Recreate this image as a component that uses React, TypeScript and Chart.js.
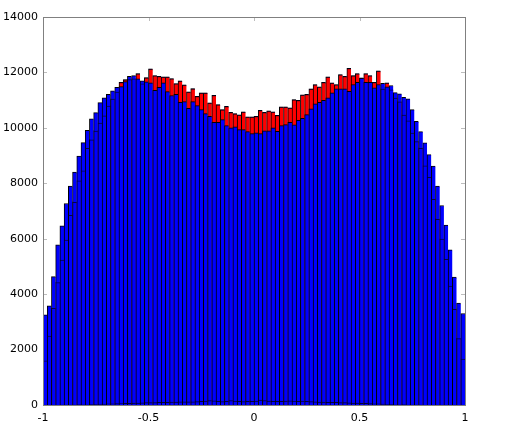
import React, { useEffect, useRef } from "react";
import { Chart, registerables } from "chart.js";

Chart.register(...registerables);

// Histogram bins: 100 bins of width 0.02 from -1 to 1
const BIN_START = -1;
const BIN_WIDTH = 0.02;
const BIN_COUNT = 100;
const binCenters: number[] = Array.from({ length: BIN_COUNT }, (_, i) => +(BIN_START + BIN_WIDTH * (i + 0.5)).toFixed(3));

// Blue histogram (front)
const blueCounts: number[] = [
  3256, 3582, 4631, 5778, 6465, 7272, 7898, 8405, 8980, 9470,
  9915, 10330, 10548, 10908, 11080, 11213, 11335, 11465, 11490, 11671,
  11862, 11885, 11769, 11700, 11660, 11624, 11357, 11465, 11624, 11310,
  11166, 11213, 10924, 10949, 10707, 10949, 10805, 10660, 10516, 10418,
  10202, 10202, 10299, 10083, 10000, 10036, 9938, 9938, 9866, 9794,
  9819, 9794, 9891, 9891, 10000, 9877, 10083, 10119, 10202, 10108,
  10274, 10346, 10480, 10686, 10866, 10924, 10997, 11083, 11263, 11408,
  11408, 11408, 11321, 11563, 11646, 11790, 11646, 11646, 11444, 11563,
  11610, 11480, 11527, 11270, 11230, 11100, 11050, 10660, 10235, 9866,
  9458, 9036, 8625, 7900, 7200, 6490, 5600, 4615, 3682, 3300,
];

// Red histogram (behind blue)
const redCounts: number[] = [
  1610, 2502, 3500, 4426, 5245, 5967, 6859, 7328, 8097, 8458,
  9277, 9577, 9900, 10180, 10444, 10800, 11050, 11300, 11646, 11743,
  11750, 11780, 11960, 11600, 11815, 12130, 11888, 11862, 11840, 11840,
  11780, 11600, 11696, 11552, 11300, 11418, 11140, 11263, 11263, 10902,
  11177, 10841, 10660, 10780, 10563, 10516, 10469, 10577, 10397, 10397,
  10418, 10635, 10563, 10613, 10577, 10455, 10758, 10758, 10722, 11021,
  10997, 11191, 11213, 11408, 11563, 11480, 11646, 11840, 11624, 11563,
  11924, 11862, 12152, 11888, 11960, 11805, 11960, 11888, 11646, 12057,
  11408, 11624, 11383, 11083, 10949, 10469, 10263, 9819, 9516, 9277,
  8639, 8231, 7437, 6715, 6000, 5271, 4307, 3466, 2404, 1672,
];

// Small third histogram near the baseline (outline only)
const smallCounts: number[] = [
  5, 8, 10, 12, 15, 18, 20, 22, 25, 28,
  30, 35, 38, 42, 45, 50, 55, 60, 65, 70,
  75, 80, 85, 90, 95, 100, 100, 105, 110, 110,
  115, 120, 125, 130, 125, 130, 135, 140, 150, 170,
  160, 140, 135, 145, 170, 150, 140, 135, 140, 145,
  150, 190, 170, 150, 140, 145, 140, 150, 160, 150,
  145, 150, 140, 135, 130, 120, 115, 110, 110, 105,
  100, 95, 90, 85, 80, 75, 70, 60, 55, 50,
  45, 40, 35, 30, 28, 25, 22, 20, 18, 15,
  12, 10, 10, 8, 8, 6, 5, 5, 4, 3,
];

const xTickValues: number[] = [-1, -0.5, 0, 0.5, 1];
const xTickLabels: string[] = ["-1", "-0.5", "0", "0.5", "1"];
const yTickValues: number[] = [0, 2000, 4000, 6000, 8000, 10000, 12000, 14000];
const yTickLabels: string[] = ["0", "2000", "4000", "6000", "8000", "10000", "12000", "14000"];

const toPoints = (vals: number[]) => vals.map((v, i) => ({ x: binCenters[i], y: v }));

const matlabAxes = {
  id: "matlabAxes",
  beforeDatasetsDraw(chart: any) {
    const { ctx, chartArea: a, scales } = chart;
    const tl = 4;
    ctx.save();
    ctx.strokeStyle = "#bdbdbd";
    ctx.lineWidth = 1;
    ctx.beginPath();
    for (const v of yTickValues) {
      const y = Math.round(scales.y.getPixelForValue(v)) + 0.5;
      ctx.moveTo(a.left, y);
      ctx.lineTo(a.left + tl, y);
      ctx.moveTo(a.right - tl, y);
      ctx.lineTo(a.right, y);
    }
    for (const v of xTickValues) {
      const x = Math.round(scales.x.getPixelForValue(v)) + 0.5;
      ctx.moveTo(x, a.bottom);
      ctx.lineTo(x, a.bottom - tl);
      ctx.moveTo(x, a.top);
      ctx.lineTo(x, a.top + tl);
    }
    ctx.stroke();
    ctx.restore();
  },
  afterDatasetsDraw(chart: any) {
    const { ctx, chartArea: a } = chart;
    ctx.save();
    ctx.strokeStyle = "#808080";
    ctx.lineWidth = 1;
    ctx.strokeRect(Math.round(a.left) + 0.5, Math.round(a.top) + 0.5, Math.round(a.right - a.left), Math.round(a.bottom - a.top));
    ctx.restore();
  },
};

export default function App() {
  const ref = useRef<HTMLCanvasElement | null>(null);

  useEffect(() => {
    if (!ref.current) return;
    const common = {
      barPercentage: 1,
      categoryPercentage: 1,
      grouped: false,
      borderSkipped: "start",
    };
    const chart = new Chart(ref.current, {
      type: "bar",
      data: {
        datasets: [
          {
            ...common,
            label: "small",
            data: toPoints(smallCounts),
            backgroundColor: "rgba(0,0,0,0)",
            borderColor: "rgba(0,0,0,0.75)",
            borderWidth: { top: 1, left: 0, right: 0, bottom: 0 },
            inflateAmount: 0,
            order: 0,
          },
          {
            ...common,
            label: "redEdge",
            data: toPoints(redCounts),
            backgroundColor: "rgba(0,0,0,0)",
            borderColor: "rgba(0,0,40,0.8)",
            borderWidth: { top: 1, left: 0, right: 0, bottom: 0 },
            inflateAmount: 0,
            order: 1,
          },
          {
            ...common,
            label: "blue",
            data: toPoints(blueCounts),
            backgroundColor: "#0000ff",
            borderColor: "#000000",
            borderWidth: { top: 1, left: 1, right: 0, bottom: 0 },
            order: 2,
          },
          {
            ...common,
            label: "red",
            data: toPoints(redCounts),
            backgroundColor: "#ff0000",
            borderColor: "#000000",
            borderWidth: { top: 1, left: 1, right: 0, bottom: 0 },
            order: 3,
          },
        ] as any,
      },
      options: {
        responsive: false,
        animation: false,
        events: [],
        layout: { padding: { top: 17, right: 42, left: 0, bottom: 0 } },
        plugins: { legend: { display: false }, tooltip: { enabled: false } },
        scales: {
          x: {
            type: "linear",
            min: -1,
            max: 1,
            offset: false,
            grid: { display: false, drawTicks: false },
            border: { display: false },
            afterBuildTicks: (s: any) => {
              s.ticks = xTickValues.map((v) => ({ value: v }));
            },
            afterFit: (s: any) => {
              s.height = 26;
            },
            ticks: {
              autoSkip: false,
              maxRotation: 0,
              padding: 7,
              color: "#000",
              font: { family: "DejaVu Sans", size: 11 },
              callback: (_v: any, i: number) => xTickLabels[i],
            },
          },
          y: {
            type: "linear",
            min: 0,
            max: 14000,
            grid: { display: false, drawTicks: false },
            border: { display: false },
            afterBuildTicks: (s: any) => {
              s.ticks = yTickValues.map((v) => ({ value: v }));
            },
            afterFit: (s: any) => {
              s.width = 43;
            },
            ticks: {
              autoSkip: false,
              padding: 5,
              color: "#000",
              font: { family: "DejaVu Sans", size: 11 },
              callback: (_v: any, i: number) => yTickLabels[i],
            },
          },
        },
      } as any,
      plugins: [matlabAxes],
    });
    return () => chart.destroy();
  }, []);

  return (
    <div style={{ position: "absolute", left: 0, top: 0, width: 507, height: 431, background: "#fff" }}>
      <canvas ref={ref} width={507} height={431} style={{ display: "block", width: 507, height: 431 }} />
    </div>
  );
}
